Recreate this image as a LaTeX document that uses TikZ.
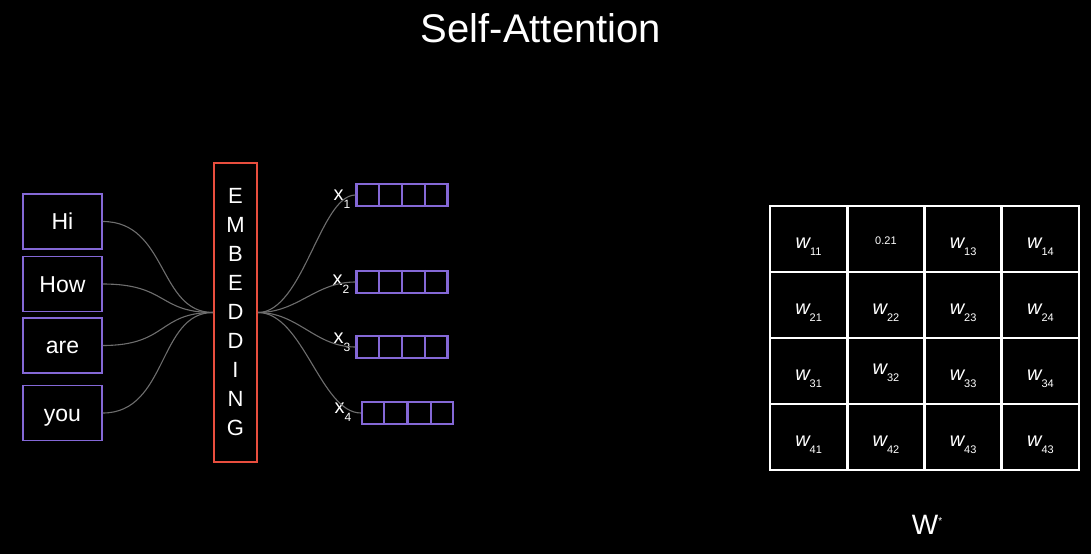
\documentclass[tikz,border=0pt]{standalone}
\usepackage{fontspec}
\setmainfont{Liberation Sans}
\usetikzlibrary{calc}
\definecolor{wordpurple}{RGB}{132,104,214}
\definecolor{embred}{RGB}{232,78,62}
\definecolor{linkgray}{RGB}{110,110,110}
\newcommand\wsub[1]{{\itshape w}\raisebox{-7pt}{\fontsize{11}{11}\selectfont #1}}
\newcommand\xsub[1]{x\raisebox{-8pt}{\fontsize{12}{12}\selectfont #1}}
\begin{document}
\begin{tikzpicture}[x=1pt,y=-1pt,
  wordbox/.style={draw=wordpurple,line width=1.5pt,minimum width=79pt,minimum height=55pt,inner sep=0pt,text=white,font=\fontsize{23}{26}\selectfont,text height=16.4pt,text depth=0pt},
  embbox/.style={draw=embred,line width=2pt,minimum width=43pt,minimum height=299pt,inner sep=0pt,text=white,align=center,font=\fontsize{22}{29}\selectfont},
  vecbox/.style={draw=wordpurple,line width=2.2pt,minimum width=91pt,minimum height=22pt,inner sep=0pt},
  vecline/.style={draw=wordpurple,line width=2.2pt},
  xlabel/.style={text=white,font=\fontsize{20}{20}\selectfont,inner sep=0pt},
  link/.style={draw=linkgray,line width=1.1pt},
  cell/.style={draw=white,line width=2.6pt,minimum width=77.25pt,minimum height=66pt,inner sep=0pt,text=white,font=\fontsize{20}{20}\selectfont,text height=18pt,text depth=0pt},
  smallcell/.style={cell,font=\fontsize{11}{11}\selectfont,text height=11pt},
]
\fill[black] (0,0) rectangle (1091,554);
\node[text=white,font=\fontsize{40}{48}\selectfont] (title) at (541,28) {Self-Attention};

% words
\node[wordbox] (hi) at (62.5,221.5) {Hi};
\node[wordbox] (how) at (62.5,284) {How};
\node[wordbox] (are) at (62.5,345.5) {are};
\node[wordbox] (you) at (62.5,413) {you};

% embedding
\node[embbox] (emb) at (235.5,312.5) {E\\M\\B\\E\\D\\D\\I\\N\\G};

\foreach \w in {hi,how,are,you}
  \draw[link] (\w.east) .. controls +(65,0) and +(-55,0) .. (emb.west);

% vectors
\node[vecbox] (v1) at (402,195) {};
\node[vecbox] (v2) at (402,282) {};
\node[vecbox] (v3) at (402,347) {};
\node[vecbox] (v4) at (407.5,413) {};
\foreach \v in {v1,v2,v3,v4}
  \foreach \i in {1,2,3}
    \draw[vecline] ($(\v.north west)!\i/4!(\v.north east)$) -- ($(\v.south west)!\i/4!(\v.south east)$);

\node[xlabel] (x1) at (342,199) {\xsub{1}};
\node[xlabel] (x2) at (341,284) {\xsub{2}};
\node[xlabel] (x3) at (342,342) {\xsub{3}};
\node[xlabel] (x4) at (343,412) {\xsub{4}};

\draw[link] (emb.east) .. controls +(45,0) and +(-35,0) .. (v1.west);
\draw[link] (emb.east) .. controls +(40,0) and +(-40,0) .. (v2.west);
\draw[link] (emb.east) .. controls +(40,0) and +(-40,0) .. (v3.west);
\draw[link] (emb.east) .. controls +(45,0) and +(-40,0) .. (v4.west);

% matrix
\node[cell] (m11) at (808.6,239) {\wsub{11}};
\node[smallcell] (m12) at (885.9,239) {0.21};
\node[cell] (m13) at (963.1,239) {\wsub{13}};
\node[cell] (m14) at (1040.4,239) {\wsub{14}};
\node[cell] (m21) at (808.6,305) {\wsub{21}};
\node[cell] (m22) at (885.9,305) {\wsub{22}};
\node[cell] (m23) at (963.1,305) {\wsub{23}};
\node[cell] (m24) at (1040.4,305) {\wsub{24}};
\node[cell] (m31) at (808.6,371) {\wsub{31}};
\node[cell] (m32) at (885.9,371) {\raisebox{6pt}{\wsub{32}}};
\node[cell] (m33) at (963.1,371) {\wsub{33}};
\node[cell] (m34) at (1040.4,371) {\wsub{34}};
\node[cell] (m41) at (808.6,437) {\wsub{41}};
\node[cell] (m42) at (885.9,437) {\wsub{42}};
\node[cell] (m43) at (963.1,437) {\wsub{43}};
\node[cell] (m44) at (1040.4,437) {\wsub{43}};

\node[text=white,font=\fontsize{28}{30}\selectfont] (wstar) at (927,525) {W\raisebox{10pt}{\fontsize{10}{10}\selectfont *}};
\end{tikzpicture}
\end{document}
